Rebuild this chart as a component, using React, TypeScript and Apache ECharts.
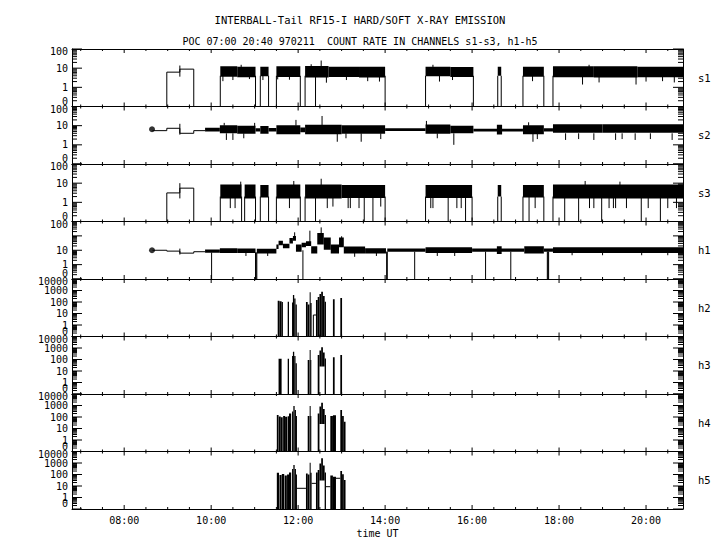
import React, { useEffect, useRef } from "react";
import * as echarts from "echarts";

const FONT = "DejaVu Sans Mono";
const X_MIN = 6.8;
const X_MAX = 20.85;

// time axis (hours UT)
const xTickHours = [8, 10, 12, 14, 16, 18, 20];
const xTickLabels = ["08:00", "10:00", "12:00", "14:00", "16:00", "18:00", "20:00"];
const xMinorHours = [7, 7.5, 8.5, 9, 9.5, 10.5, 11, 11.5, 12.5, 13, 13.5, 14.5, 15, 15.5, 16.5, 17, 17.5, 18.5, 19, 19.5, 20.5];

const channelNames = ["s1", "s2", "s3", "h1", "h2", "h3", "h4", "h5"];
const axisTopDecade = [2, 2, 2, 3, 4, 4, 4, 4];
const softLabels = ["0", "1", "10", "100"];
const h1Labels = ["0", "1", "10", "", "100"];
const hardLabels = ["0", "1", "10", "100", "1000", "10000"];

const titleLine1 = "INTERBALL-Tail RF15-I HARD/SOFT X-RAY EMISSION";
const titleLine2 = "POC 07:00 20:40 970211  COUNT RATE IN CHANNELS s1-s3, h1-h5";

// ---- s1 ----  bands: [tStart, tEnd, low, high]; spikes: [t, from, to]; traces: polylines [t, value]
const s1Trace = [[[8.98, 0.1], [8.98, 6.2], [9.28, 6.2], [9.28, 8.9], [9.6, 8.9], [9.6, 0.1]]];
const s1Bands = [
  [10.21, 10.6, 3.6, 12.5], [10.6, 11.02, 3.4, 12], [11.13, 11.32, 3.8, 12], [11.5, 12.05, 3.5, 12.5],
  [12.16, 12.7, 3.3, 13], [12.7, 13.4, 3.5, 12], [13.4, 14.0, 3.3, 12], [14.93, 15.5, 3.8, 12],
  [15.5, 16.03, 3.5, 11.5], [16.59, 16.67, 4, 12], [17.17, 17.65, 3.6, 12], [17.86, 18.8, 3.4, 12.5],
  [18.8, 19.8, 3.3, 12.5], [19.8, 20.85, 3.4, 12],
];
const s1Spikes = [
  [9.28, 3.6, 13.7],
  [10.21, 0.1, 4], [11.02, 0.1, 4], [11.13, 0.1, 4], [11.32, 0.1, 4], [11.5, 0.1, 4], [12.05, 0.1, 4],
  [12.16, 0.1, 4], [12.4, 0.1, 4], [14.0, 0.1, 4], [14.93, 0.1, 4], [16.03, 0.1, 4], [16.59, 0.1, 4],
  [16.67, 0.1, 4], [17.17, 0.1, 4], [17.65, 0.1, 4], [17.86, 0.1, 4],
  [10.27, 2.1, 4], [10.5, 2.4, 4], [10.88, 2.7, 4], [11.19, 2.4, 4], [11.53, 2.6, 4], [11.8, 2.5, 4],
  [12.65, 1.75, 4], [13.11, 2.4, 4], [13.6, 2.1, 4], [13.87, 2.0, 4], [15.25, 2.0, 4], [15.55, 2.4, 4],
  [17.39, 2.1, 4], [18.54, 1.4, 4], [18.92, 1.8, 4], [19.77, 1.4, 4], [20.0, 2.0, 4], [20.38, 2.1, 4], [20.65, 1.8, 4],
  [10.69, 10, 15], [12.3, 10, 16], [12.53, 10, 25], [15.1, 10, 15], [18.69, 10, 15],
];
const s1Dots: number[][] = [];

// ---- s2 ----
const s2Dots = [[8.64, 6.5]];
const s2Trace = [[[8.65, 5.5], [8.98, 5.5], [8.98, 7.3], [9.28, 7.3], [9.28, 4.0], [9.6, 4.0], [9.6, 5.5], [9.86, 5.5]]];
const s2Bands = [
  [9.86, 10.2, 5, 7.7], [10.2, 10.6, 4.0, 10.5], [10.6, 11.02, 3.8, 10], [11.02, 11.13, 5, 7.3],
  [11.13, 11.32, 3.8, 9.5], [11.32, 11.5, 5, 7.5], [11.5, 12.05, 3.6, 10.5], [12.05, 12.16, 4.5, 8],
  [12.16, 13.0, 3.6, 11], [13.0, 14.0, 3.8, 10.5], [14.0, 14.93, 5.2, 7.3], [14.93, 15.5, 3.8, 11.5],
  [15.5, 16.03, 4, 10], [16.03, 17.17, 5, 7], [16.57, 16.69, 3.5, 11], [17.17, 17.65, 3.6, 10.5],
  [17.65, 17.86, 5, 7.3], [17.86, 19.0, 4.3, 12], [19.0, 20.85, 4.3, 12],
];
const s2Spikes = [
  [9.28, 3.4, 12.5],
  [10.3, 10, 14], [11.0, 9, 14], [11.95, 10, 20], [12.55, 10, 32], [14.95, 10, 17.7], [17.3, 10, 15],
  [10.35, 1.8, 4], [10.5, 1.8, 4], [10.75, 2.2, 4], [12.9, 1.45, 4], [13.1, 2.2, 4], [13.45, 1.45, 4],
  [13.9, 2, 4], [15.2, 2.2, 4], [15.58, 1.0, 4], [17.4, 1.45, 4], [17.5, 2, 4], [18.15, 1.8, 4],
  [18.45, 2, 4], [18.8, 1.8, 4], [19.3, 1.8, 4], [19.45, 2, 4], [19.75, 1.8, 4], [20.1, 2, 4], [20.6, 1.8, 4],
];

// ---- s3 ----
const s3Trace = [[[8.98, 0.1], [8.98, 3.1], [9.28, 3.1], [9.28, 5.5], [9.6, 5.5], [9.6, 0.1]]];
const s3Bands = [
  [10.21, 10.7, 1.6, 8.5], [10.77, 11.02, 1.6, 8.5], [11.13, 11.32, 1.8, 8], [11.5, 12.05, 1.6, 8.5],
  [12.16, 13.0, 1.6, 8.5], [13.0, 14.0, 1.7, 8], [14.93, 16.0, 1.7, 8], [16.59, 16.67, 2, 8],
  [17.17, 17.65, 1.8, 8], [17.86, 20.85, 1.6, 8.5],
];
const s3Spikes = [
  [9.28, 1.6, 10],
  [10.21, 0.1, 2], [10.7, 0.1, 2], [10.77, 0.1, 2], [11.02, 0.1, 2], [11.13, 0.1, 2], [11.32, 0.1, 2],
  [11.5, 0.1, 2], [12.05, 0.1, 2], [12.16, 0.1, 2], [12.4, 0.1, 2], [13.52, 0.1, 2], [13.72, 0.1, 2],
  [14.0, 0.1, 2], [14.93, 0.1, 2], [15.45, 0.1, 2], [15.85, 0.1, 2], [16.0, 0.1, 2], [16.59, 0.1, 2],
  [16.67, 0.1, 2], [17.17, 0.1, 2], [17.31, 0.1, 2], [17.65, 0.1, 2], [17.86, 0.1, 2], [18.13, 0.1, 2],
  [18.45, 0.1, 2], [18.98, 0.1, 2], [19.89, 0.1, 2], [20.33, 0.1, 2],
  [10.44, 0.5, 2], [10.55, 0.5, 2], [11.8, 0.5, 2], [12.67, 0.5, 2], [12.8, 0.6, 2], [13.15, 0.5, 2],
  [13.2, 0.5, 2], [13.4, 0.5, 2], [13.9, 0.6, 2], [15.05, 0.5, 2], [15.1, 0.5, 2], [15.65, 0.5, 2],
  [15.75, 0.5, 2], [17.45, 0.5, 2], [18.7, 0.5, 2], [18.8, 0.5, 2], [19.15, 0.5, 2], [19.25, 0.5, 2],
  [19.3, 0.5, 2], [19.55, 0.5, 2], [20.05, 0.5, 2], [20.5, 0.5, 2], [20.7, 0.5, 2],
  [10.68, 8, 12], [11.9, 8, 13], [12.53, 8, 17], [18.6, 8, 13], [19.4, 8, 12],
];
const s3Dots: number[][] = [];

// ---- h1 ----
const h1Dots = [[8.64, 10]];
const h1Trace = [[[8.65, 10], [8.98, 10], [8.98, 8.7], [9.28, 8.7], [9.28, 6.3], [9.6, 6.3], [9.6, 7.9], [9.86, 7.9]]];
const h1Bands = [
  [9.86, 10.2, 6.7, 11.3], [10.2, 10.6, 6.5, 14], [10.6, 11.02, 6.5, 13], [11.05, 11.5, 6, 12.5],
  [11.5, 11.55, 12, 25], [11.55, 11.65, 22, 45], [11.65, 11.8, 14, 28], [11.8, 11.88, 30, 70],
  [11.88, 11.95, 45, 100], [11.95, 12.08, 8, 25], [12.08, 12.18, 16, 33], [12.18, 12.3, 20, 42],
  [12.3, 12.44, 6, 19], [12.44, 12.59, 25, 160], [12.59, 12.75, 11, 76], [12.75, 12.94, 6, 25],
  [12.94, 13.05, 16, 76], [13.05, 13.54, 6, 18], [13.54, 14.02, 6, 14], [14.05, 14.93, 7.9, 13],
  [14.93, 16.0, 6.5, 16], [16.0, 17.2, 8, 13], [16.57, 16.68, 5.5, 19], [17.2, 17.65, 6, 19],
  [17.65, 17.86, 8, 13], [17.86, 20.85, 6.5, 16],
];
const h1Spikes = [
  [9.28, 5, 13],
  [10.01, 0.1, 7], [11.02, 0.1, 7], [11.035, 0.1, 7], [11.05, 0.1, 7], [12.11, 0.1, 10], [14.035, 0.1, 8],
  [14.05, 0.1, 8], [14.68, 0.1, 8], [16.31, 0.1, 8], [16.89, 0.1, 8], [17.73, 0.1, 8], [17.745, 0.1, 8], [17.76, 0.1, 8],
  [11.92, 60, 177], [12.27, 25, 230], [12.53, 100, 390], [13.0, 40, 94],
  [10.8, 4, 7], [11.3, 4, 7], [13.3, 3.5, 7], [13.8, 4, 7], [15.2, 4, 7], [15.6, 4, 7], [18.3, 4.5, 7],
  [19.0, 4.5, 7], [19.9, 4.5, 7], [20.5, 4.5, 7],
];

// ---- h2..h5 bursts: [tStart, tEnd, low, high] ----
const h2Bands = [
  [11.53, 11.57, 0.1, 129], [11.57, 11.62, 0.1, 118], [11.62, 11.65, 0.1, 100], [11.76, 11.79, 0.1, 106],
  [11.86, 11.88, 0.1, 90], [11.88, 11.91, 0.1, 405], [11.91, 11.94, 0.1, 200], [11.94, 11.97, 0.1, 60],
  [12.18, 12.22, 0.1, 100], [12.22, 12.26, 0.1, 60], [12.265, 12.275, 0.1, 700], [12.28, 12.31, 0.1, 80],
  [12.41, 12.45, 0.1, 150], [12.45, 12.49, 0.1, 270], [12.49, 12.53, 0.1, 500], [12.53, 12.57, 0.1, 790],
  [12.57, 12.61, 0.1, 330], [12.61, 12.64, 0.1, 106], [12.8, 12.84, 0.1, 170], [12.97, 13.01, 0.1, 220],
];
const h2Trace = [[[12.35, 0.1], [12.35, 7.4], [12.41, 7.4]]];
const h3Bands = [
  [11.55, 11.62, 0.1, 117], [11.76, 11.79, 0.1, 117], [11.86, 11.88, 0.1, 200], [11.88, 11.91, 0.1, 475],
  [11.91, 11.94, 0.1, 200], [11.94, 11.97, 0.1, 47], [12.22, 12.26, 0.1, 90], [12.265, 12.275, 0.1, 670],
  [12.28, 12.3, 0.1, 90], [12.45, 12.49, 0.1, 250], [12.49, 12.53, 25, 600], [12.53, 12.57, 25, 1150],
  [12.57, 12.61, 25, 400], [12.61, 12.64, 0.1, 120], [12.8, 12.84, 0.1, 155], [12.97, 13.01, 0.1, 245],
];
const h4Bands = [
  [11.51, 11.55, 0.1, 150], [11.555, 11.6, 0.1, 110], [11.6, 11.645, 0.1, 95], [11.655, 11.7, 0.1, 120],
  [11.7, 11.75, 0.1, 105], [11.76, 11.79, 0.1, 115], [11.79, 11.84, 0.1, 200], [11.86, 11.89, 0.1, 300],
  [11.89, 11.92, 0.1, 900], [11.92, 11.95, 0.1, 400], [11.95, 11.97, 0.1, 120], [12.22, 12.26, 0.1, 122],
  [12.265, 12.275, 0.1, 910], [12.28, 12.3, 0.1, 122], [12.45, 12.49, 0.1, 200], [12.49, 12.53, 25, 800],
  [12.53, 12.57, 25, 1750], [12.57, 12.61, 25, 500], [12.61, 12.64, 0.1, 150], [12.74, 12.8, 0.1, 120],
  [12.8, 12.87, 0.1, 140], [12.97, 13.01, 0.1, 400], [13.01, 13.05, 0.1, 120], [13.05, 13.09, 0.1, 39],
];
const h5Bands = [
  [11.51, 11.56, 0.1, 144], [11.57, 11.62, 0.1, 90], [11.625, 11.68, 0.1, 110], [11.69, 11.74, 0.1, 80],
  [11.745, 11.79, 0.1, 100], [11.79, 11.84, 0.1, 150], [11.86, 11.89, 0.1, 300], [11.89, 11.92, 0.1, 670],
  [11.92, 11.95, 0.1, 300], [11.95, 11.97, 0.1, 100], [12.18, 12.22, 0.1, 120], [12.22, 12.26, 0.1, 100],
  [12.265, 12.275, 0.1, 1060], [12.28, 12.31, 0.1, 144], [12.41, 12.45, 0.1, 150], [12.45, 12.49, 0.1, 250],
  [12.49, 12.53, 30, 900], [12.53, 12.57, 30, 2560], [12.57, 12.61, 30, 600], [12.61, 12.64, 0.1, 150],
  [12.74, 12.8, 0.1, 80], [12.8, 12.87, 0.1, 64], [12.97, 13.01, 0.1, 200], [13.01, 13.05, 0.1, 104],
  [13.05, 13.09, 0.1, 33],
];
const h5Trace = [[[11.97, 6.3], [12.18, 6.3]], [[12.31, 17], [12.41, 17]], [[12.64, 8.7], [12.74, 8.7]], [[12.87, 47], [12.97, 47]]];

const panels = [
  { bands: s1Bands, spikes: s1Spikes, traces: s1Trace, dots: s1Dots, labels: softLabels },
  { bands: s2Bands, spikes: s2Spikes, traces: s2Trace, dots: s2Dots, labels: softLabels },
  { bands: s3Bands, spikes: s3Spikes, traces: s3Trace, dots: s3Dots, labels: softLabels },
  { bands: h1Bands, spikes: h1Spikes, traces: h1Trace, dots: h1Dots, labels: h1Labels },
  { bands: h2Bands, spikes: [], traces: h2Trace, dots: [], labels: hardLabels },
  { bands: h3Bands, spikes: [], traces: [], dots: [], labels: hardLabels },
  { bands: h4Bands, spikes: [], traces: [], dots: [], labels: hardLabels },
  { bands: h5Bands, spikes: [], traces: h5Trace, dots: [], labels: hardLabels },
];

const lg = (v: number) => Math.log10(v);

const GRID_LEFT = 72;
const GRID_W = 611;
const PANEL_H = 57.5;
const HOURS_PER_PX = (X_MAX - X_MIN) / GRID_W;

// axis tick marks as polylines with gaps, in data space (hours, log10 count)
function tickPath(dec: number) {
  const pts: any[] = [];
  const decPerPx = (dec + 1) / PANEL_H;
  const seg = (x0: number, y0: number, x1: number, y1: number) => {
    pts.push([x0, y0], [x1, y1], ["-", "-"]);
  };
  const yTick = (v: number, lenPx: number) => {
    seg(X_MIN, v, X_MIN + lenPx * HOURS_PER_PX, v);
    seg(X_MAX - lenPx * HOURS_PER_PX, v, X_MAX, v);
  };
  for (let n = -1; n <= dec; n++) yTick(n, 10);
  for (let n = -1; n < dec; n++) for (let k = 2; k <= 9; k++) yTick(n + Math.log10(k), 5);
  const xTick = (h: number, lenPx: number) => {
    seg(h, -1, h, -1 + lenPx * decPerPx);
    seg(h, dec - lenPx * decPerPx, h, dec);
  };
  xTickHours.forEach((h) => xTick(h, 4));
  xMinorHours.forEach((h) => xTick(h, 2));
  return pts;
}

function buildOption() {
  const grids: any[] = [];
  const xAxes: any[] = [];
  const yAxes: any[] = [];
  const series: any[] = [];
  const graphics: any[] = [];
  const mkLine = () => ({ show: true, onZero: false, lineStyle: { color: "#000", width: 1 } });
  const labelText = { color: "#000", fontFamily: FONT, fontSize: 10 };

  panels.forEach((p, i) => {
    const top = 49 + i * PANEL_H;
    grids.push({ left: GRID_LEFT, top, width: GRID_W, height: PANEL_H });
    const last = i === panels.length - 1;
    const dec = axisTopDecade[i];
    xAxes.push({
      gridIndex: i, type: "value", min: X_MIN, max: X_MAX, position: "bottom",
      axisLine: mkLine(), splitLine: { show: false }, axisTick: { show: false },
      axisLabel: {
        show: last, customValues: xTickHours, margin: 6, ...labelText,
        formatter: (v: number) => xTickLabels[xTickHours.indexOf(Math.round(v))] ?? "",
      },
      name: last ? "time UT" : "", nameLocation: "middle", nameGap: 19,
      nameTextStyle: { ...labelText },
    });
    xAxes.push({
      gridIndex: i, type: "value", min: X_MIN, max: X_MAX, position: "top",
      axisLine: mkLine(), splitLine: { show: false }, axisTick: { show: false },
      axisLabel: { show: false },
    });
    yAxes.push({
      gridIndex: i, type: "value", min: -1, max: dec, interval: 1, position: "left",
      axisLine: mkLine(), splitLine: { show: false }, axisTick: { show: false },
      axisLabel: { show: false },
    });
    yAxes.push({
      gridIndex: i, type: "value", min: -1, max: dec, interval: 1, position: "right",
      axisLine: mkLine(), splitLine: { show: false }, axisTick: { show: false },
      axisLabel: { show: false },
    });

    const xi = 2 * i;
    const yi = 2 * i;

    // tick marks
    series.push({
      type: "line", xAxisIndex: xi, yAxisIndex: yi, silent: true, showSymbol: false,
      connectNulls: false, clip: false,
      data: tickPath(dec),
      lineStyle: { color: "#000", width: 1 },
    });

    // count-rate labels on the left
    const labels = p.labels;
    const labelData: number[][] = [];
    for (let n = -1; n <= dec; n++) if (labels[n + 1]) labelData.push([X_MIN, n, n + 1]);
    series.push({
      type: "custom", xAxisIndex: xi, yAxisIndex: yi, silent: true, clip: false,
      data: labelData,
      renderItem: (params: any, api: any) => {
        const idx = api.value(2);
        const pt = api.coord([api.value(0), api.value(1)]);
        const shift = idx === 0 ? -5.5 : idx === labels.length - 1 ? 2.5 : 0;
        return {
          type: "text",
          x: pt[0] - 4,
          y: pt[1] + shift,
          style: {
            text: labels[idx], fill: "#000", font: `10px "${FONT}"`,
            align: "right", verticalAlign: "middle",
          },
        };
      },
    });

    // noise bands / bursts
    series.push({
      type: "custom", xAxisIndex: xi, yAxisIndex: yi, silent: true, clip: true,
      data: p.bands,
      renderItem: (params: any, api: any) => {
        const a = api.coord([api.value(0), lg(api.value(3))]);
        const b = api.coord([api.value(1), lg(api.value(2))]);
        return {
          type: "rect",
          shape: { x: a[0], y: a[1], width: Math.max(b[0] - a[0], 1), height: Math.max(b[1] - a[1], 1) },
          style: { fill: "#000" },
        };
      },
    });
    // spikes and drop-outs
    if (p.spikes.length) {
      series.push({
        type: "custom", xAxisIndex: xi, yAxisIndex: yi, silent: true, clip: true,
        data: p.spikes,
        renderItem: (params: any, api: any) => {
          const a = api.coord([api.value(0), lg(api.value(1))]);
          const b = api.coord([api.value(0), lg(api.value(2))]);
          return {
            type: "line",
            shape: { x1: a[0], y1: a[1], x2: b[0], y2: b[1] },
            style: { stroke: "#000", lineWidth: 1 },
          };
        },
      });
    }
    p.traces.forEach((poly: number[][]) => {
      series.push({
        type: "line", xAxisIndex: xi, yAxisIndex: yi, silent: true, showSymbol: false,
        data: poly.map(([t, v]) => [t, lg(v)]),
        lineStyle: { color: "#000", width: 1 },
      });
    });
    if (p.dots.length) {
      series.push({
        type: "scatter", xAxisIndex: xi, yAxisIndex: yi, silent: true, symbolSize: 6,
        data: p.dots.map(([t, v]) => [t, lg(v)]),
        itemStyle: { color: "#000" },
      });
    }

    graphics.push({
      type: "text", x: 698, y: top + PANEL_H / 2, silent: true,
      style: { text: channelNames[i], fill: "#000", font: `10.5px "${FONT}"`, verticalAlign: "middle", align: "left" },
    });
  });

  return {
    animation: false,
    backgroundColor: "#fff",
    title: [
      { text: titleLine1, left: "center", top: 9, textStyle: { color: "#000", fontFamily: FONT, fontSize: 10.5, fontWeight: "normal" } },
      { text: titleLine2, left: "center", top: 31, textStyle: { color: "#000", fontFamily: FONT, fontSize: 10, fontWeight: "normal" } },
    ],
    grid: grids,
    xAxis: xAxes,
    yAxis: yAxes,
    series,
    graphic: graphics,
  };
}

export default function App() {
  const ref = useRef<HTMLDivElement>(null);
  useEffect(() => {
    if (!ref.current) return;
    const chart = echarts.init(ref.current, null, { renderer: "svg" });
    chart.setOption(buildOption() as any);
    return () => chart.dispose();
  }, []);
  return (
    <div
      ref={ref}
      style={{ position: "fixed", left: 0, top: 0, width: 720, height: 550, background: "#fff" }}
    />
  );
}
